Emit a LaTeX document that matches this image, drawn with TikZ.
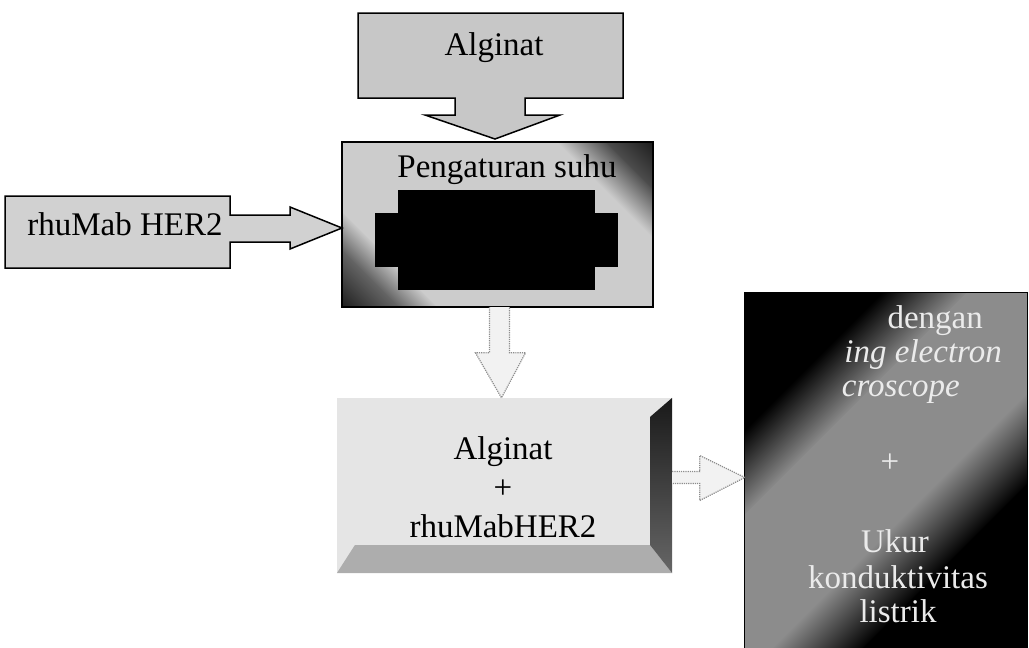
\documentclass[tikz,border=0pt]{standalone}
\usepackage{fontspec}
\setmainfont{Liberation Serif}
\usetikzlibrary{calc}

\tikzset{
    teks/.style={font=\fontsize{33}{39}\selectfont, inner sep=0pt},
    miring/.style={teks, font=\fontsize{33}{39}\selectfont\itshape},
    terang/.style={teks, text=black!8},
    kotak/.style={draw=black, line width=1.5pt},
    panahkosong/.style={draw=black!45, densely dotted, line width=1.2pt, fill=black!5},
}

\begin{document}
\begin{tikzpicture}[x=1pt, y=-1pt, line join=miter]
    % 1. Batas gambar
    \useasboundingbox (0,0) rectangle (1029,648);
    \clip (0,0) rectangle (1029,648);

    % 2. Kotak pengaturan suhu (gradasi miring, bagian hitam tertutup)
    \node[minimum width=311, minimum height=165, inner sep=0pt] (suhu) at (497.5,224.5) {};
    \begin{scope}
        \clip (suhu.south west) rectangle (suhu.north east);
        \begin{scope}[transform canvas={shift={(suhu.center)}, rotate=45}]
            \shade[left color=black!90, right color=black!60] (-171,-200) rectangle (-127,200);
            \shade[left color=black!60, right color=black!20] (-128,-200) rectangle (-100,200);
            \fill[black!20] (-101,-200) rectangle (101,200);
            \shade[left color=black!20, right color=black!70] (100,-200) rectangle (136,200);
            \shade[left color=black!70, right color=black!90] (135,-200) rectangle (171,200);
        \end{scope}
    \end{scope}
    \draw[kotak] (suhu.south west) rectangle (suhu.north east);
    \fill[black] (398,190) rectangle (595,290);
    \fill[black] (375,213) rectangle (618,267);
    \node[teks, anchor=base] (suhuT) at (507,177) {Pengaturan suhu};

    % 3. Kotak Alginat dengan panah ke bawah
    \draw[kotak, fill=black!22] (358,13) -- (623,13) -- (623,98) -- (525,98) -- (525,115) -- (560,115)
        -- (495,139) -- (425,115) -- (455,115) -- (455,98) -- (358,98) -- cycle;
    \node[teks, anchor=base] (alg) at (494,55) {Alginat};

    % 4. Kotak rhuMab HER2 dengan panah ke kanan
    \draw[kotak, fill=black!18] (5,196) -- (230,196) -- (230,215) -- (290,215) -- (290,207)
        -- (342,228) -- (290,249) -- (290,242) -- (230,242) -- (230,268) -- (5,268) -- cycle;
    \node[teks, anchor=base] (rhu) at (125,235) {rhuMab HER2};

    % 5. Kotak Alginat + rhuMabHER2
    \node[fill=black!10, minimum width=335, minimum height=175, inner sep=0pt] (mix) at (504.5,485.5) {};
    \fill[black!32] (mix.south west) -- (mix.south east) -- ++(-22,-28) -- ($(mix.south west)+(18,-28)$) -- cycle;
    \shade[top color=black!90, bottom color=black!60] (mix.north east) -- (mix.south east) -- ++(-22,-28)
        -- ($(mix.north east)+(-22,19)$) -- cycle;
    \node[teks, align=center] (mixT) at (503,487) {Alginat\\+\\rhuMabHER2};

    % 6. Kotak SEM dan konduktivitas (gelap di sudut kiri atas dan kanan bawah)
    \node[minimum width=282, minimum height=367, inner sep=0pt] (sem) at (886,476.5) {};
    \begin{scope}
        \clip (sem.south west) rectangle (sem.north east);
        \begin{scope}[transform canvas={shift={(sem.center)}, rotate=-45}]
            \fill[black] (-300,-300) rectangle (-132,300);
            \shade[left color=black, right color=black!45] (-133,-300) rectangle (-72,300);
            \fill[black!45] (-73,-300) rectangle (41,300);
            \shade[left color=black!45, right color=black] (40,-300) rectangle (106,300);
            \fill[black] (105,-300) rectangle (300,300);
        \end{scope}
    \end{scope}
    \draw[black, line width=1.2pt] (sem.south west) rectangle (sem.north east);
    \node[terang, anchor=base east] (semA) at (983,328) {dengan};
    \node[terang, miring, anchor=base east] (semB) at (1002,362) {ing electron};
    \node[terang, miring, anchor=base east] (semC) at (960,396) {croscope};
    \node[terang, anchor=base] (semD) at (890,472) {+};
    \node[terang, anchor=base] (semE) at (895,552) {Ukur};
    \node[terang, anchor=base] (semF) at (898,588) {konduktivitas};
    \node[terang, anchor=base] (semG) at (898,622) {listrik};

    % 7. Panah titik-titik antar kotak
    \draw[panahkosong] let \p1=(suhu.south), \p2=(mix.north) in
        (\x1-8pt,\y1) -- (\x1-8pt,\y2+45pt) -- (\x1-22pt,\y2+45pt) -- (\x1+4pt,\y2)
        -- (\x1+28pt,\y2+45pt) -- (\x1+12pt,\y2+45pt) -- (\x1+12pt,\y1);
    \draw[panahkosong] let \p1=(mix.east), \p2=(sem.west) in
        (\x1,\y1+14pt) -- (\x2-45pt,\y1+14pt) -- (\x2-45pt,\y1+30pt) -- (\x2,\y1+8pt)
        -- (\x2-45pt,\y1-15pt) -- (\x2-45pt,\y1+2pt) -- (\x1,\y1+2pt);
\end{tikzpicture}
\end{document}
